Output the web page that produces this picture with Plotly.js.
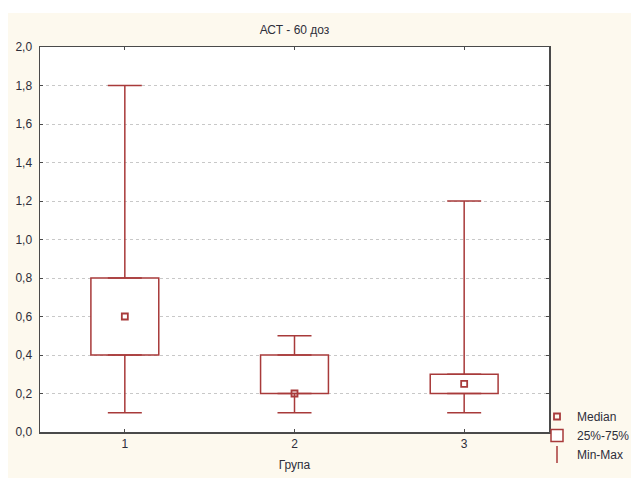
<!DOCTYPE html>
<html>
<head>
<meta charset="utf-8">
<script src="https://cdn.plot.ly/plotly-3.0.1.min.js"></script>
<style>
  html, body { margin: 0; padding: 0; background: #ffffff; width: 631px; height: 478px; overflow: hidden; }
  #chart { position: absolute; left: 8px; top: 13px; width: 623px; height: 465px; }
</style>
</head>
<body>
<div id="chart"></div>
<script>
// Data
const groups  = [1, 2, 3];
const minVals = [0.1, 0.1, 0.1];
const q1Vals  = [0.4, 0.2, 0.2];
const medVals = [0.6, 0.2, 0.25];
const q3Vals  = [0.8, 0.4, 0.3];
const maxVals = [1.8, 0.5, 1.2];
const yTicks  = [0, 0.2, 0.4, 0.6, 0.8, 1.0, 1.2, 1.4, 1.6, 1.8, 2.0];

const RED = '#a83a3a';
const TXT = '#2e2e3a';

const boxTrace = {
  type: 'bar', name: '25%-75%', x: groups,
  base: q1Vals, y: q3Vals.map((v, i) => v - q1Vals[i]),
  width: 0.4,
  marker: { color: '#ffffff', line: { color: RED, width: 1.5 } },
  hoverinfo: 'skip', legendrank: 2
};
const upperWhisker = {
  type: 'scatter', mode: 'markers', x: groups, y: q3Vals,
  marker: { size: 1, opacity: 0 }, showlegend: false, hoverinfo: 'skip',
  error_y: { type: 'data', symmetric: false,
    array: maxVals.map((v, i) => v - q3Vals[i]), arrayminus: groups.map(() => 0),
    color: RED, thickness: 1.5, width: 17 }
};
const lowerWhisker = {
  type: 'scatter', mode: 'markers', x: groups, y: q1Vals,
  marker: { size: 1, opacity: 0 }, showlegend: false, hoverinfo: 'skip',
  error_y: { type: 'data', symmetric: false,
    array: groups.map(() => 0), arrayminus: q1Vals.map((v, i) => v - minVals[i]),
    color: RED, thickness: 1.5, width: 17 }
};
const medianTrace = {
  type: 'scatter', mode: 'markers', name: 'Median', x: groups, y: medVals,
  marker: { symbol: 'square-open', size: 6, color: RED, line: { color: RED, width: 1.8 } },
  legendrank: 1
};
const minMaxLegend = {
  type: 'scatter', mode: 'markers', name: 'Min-Max', x: [null], y: [null],
  marker: { symbol: 'line-ns-open', size: 12, color: RED, line: { color: RED, width: 1.5 } },
  legendrank: 3
};

const layout = {
  width: 623, height: 465,
  paper_bgcolor: '#fdf9ee', plot_bgcolor: '#ffffff',
  margin: { l: 32, r: 82, t: 34, b: 46, autoexpand: false },
  separators: ', ',
  font: { family: 'Arial, "Liberation Sans", sans-serif', size: 12, color: TXT },
  title: { text: 'АСТ - 60 доз', x: 0.5, xref: 'paper', y: 1 - 17 / 465, yref: 'container',
           yanchor: 'middle', font: { size: 12, color: TXT } },
  showlegend: true,
  legend: { xref: 'container', yref: 'container', x: 529 / 623, xanchor: 'left',
            y: 1 - 456 / 465, yanchor: 'bottom', bgcolor: 'rgba(0,0,0,0)',
            font: { size: 12, color: TXT }, itemwidth: 30, tracegroupgap: 0 },
  barmode: 'overlay',
  xaxis: {
    range: [0.5, 3.5], tickvals: groups, ticktext: groups.map(String),
    showline: true, linecolor: '#4a4a4a', linewidth: 1.5, mirror: 'ticks',
    ticks: 'inside', ticklen: 3, tickcolor: '#4a4a4a', showgrid: false, zeroline: false,
    title: { text: 'Група', standoff: 10, font: { size: 12, color: TXT } },
    tickfont: { size: 12, color: TXT }, automargin: false
  },
  yaxis: {
    range: [0, 2], tickvals: yTicks, tickformat: '.1f',
    showline: true, linecolor: '#4a4a4a', linewidth: 1.5, mirror: 'ticks',
    ticks: 'inside', ticklen: 3, tickcolor: '#4a4a4a',
    showgrid: true, gridcolor: '#c8c8c8', gridwidth: 1, griddash: 'dot', zeroline: false,
    tickfont: { size: 12, color: TXT }, ticklabelstandoff: 4, automargin: false
  }
};

Plotly.newPlot('chart', [boxTrace, upperWhisker, lowerWhisker, medianTrace, minMaxLegend], layout,
  { staticPlot: true, displayModeBar: false });
</script>
</body>
</html>
